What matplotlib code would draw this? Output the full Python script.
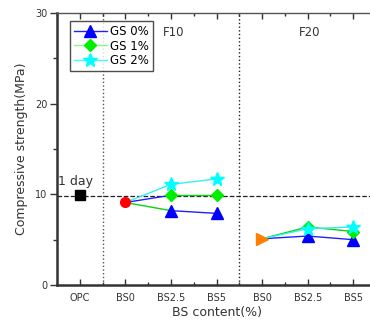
import matplotlib
matplotlib.use('Agg')
import matplotlib.pyplot as plt
from matplotlib.ticker import MultipleLocator

# Category labels along the x axis
categories = ['OPC', 'BS0', 'BS2.5', 'BS5', 'BS0', 'BS2.5', 'BS5']

# Reference (OPC) and plain-BS starting points
opc = 9.9
f10_bs0 = 9.1
f20_bs0 = 5.1

# Strength after GS addition at BS2.5 and BS5
gs_labels = ['GS 0%', 'GS 1%', 'GS 2%']
f10_gs0 = [8.2, 7.9]
f10_gs1 = [9.9, 9.9]
f10_gs2 = [11.1, 11.7]
f20_gs0 = [5.4, 5.0]
f20_gs1 = [6.4, 5.9]
f20_gs2 = [6.2, 6.4]

ref_line = 9.8

fig = plt.figure(figsize=(3.70, 3.25), dpi=100)
ax = fig.add_axes([57 / 370, 40 / 325, 319 / 370, 272 / 325])

styles = [
    dict(marker='^', mc='#0000ff', lc='#2020ff', ms=8),
    dict(marker='D', mc='#00ee00', lc='#10d010', ms=6.5),
    dict(marker='*', mc='#00ffff', lc='#30f0f0', ms=10),
]
# first F10 segment colours (blue/green swapped in the source figure)
first_seg = ['#10d010', '#2020ff', '#30f0f0']

f10 = [f10_gs0, f10_gs1, f10_gs2]
f20 = [f20_gs0, f20_gs1, f20_gs2]

for i, st in enumerate(styles):
    # F10 group: x = 1, 2, 3
    ax.plot([1, 2], [f10_bs0, f10[i][0]], color=first_seg[i], lw=1, zorder=2)
    ax.plot([2, 3], f10[i], color=st['lc'], lw=1, zorder=2)
    ax.plot([2, 3], f10[i], ls='none', marker=st['marker'], color=st['mc'],
            ms=st['ms'], zorder=3)
    # F20 group: x = 4, 5, 6
    ax.plot([4, 5, 6], [f20_bs0] + f20[i], color=st['lc'], lw=1, zorder=2)
    ax.plot([5, 6], f20[i], ls='none', marker=st['marker'], color=st['mc'],
            ms=st['ms'], zorder=3)

ax.plot([0], [opc], 's', color='black', ms=6.5, zorder=4)
ax.plot([1], [f10_bs0], 'o', color='#ff0000', ms=7, zorder=4)
ax.plot([4], [f20_bs0], '>', color='#ff8000', ms=8, zorder=4)

# legend handles
handles = []
for lab, st, lc in zip(gs_labels, styles, ['#2020ff', '#80ff80', '#40ffff']):
    h, = ax.plot([], [], color=lc, lw=1, marker=st['marker'],
                 mfc=st['mc'], mec=st['mc'], ms=st['ms'], label=lab)
    handles.append(h)
leg = ax.legend(handles=handles, loc='upper left', bbox_to_anchor=(0.04, 0.972),
                fontsize=8.5, frameon=True, fancybox=False, handlelength=2.8,
                handletextpad=0.3, borderpad=0.35, labelspacing=0.15,
                borderaxespad=0)
leg.get_frame().set_edgecolor('#222222')
leg.get_frame().set_linewidth(1)

ax.axhline(ref_line, color='#222222', ls='--', lw=0.9, zorder=1)
ax.axvline(0.5, color='#555555', ls=':', lw=1, zorder=1)
ax.axvline(3.5, color='#222222', ls=':', lw=1, zorder=1)

ax.text(-0.47, 11.4, '1 day', fontsize=9, color='#333333', va='center')
ax.text(2.05, 27.9, 'F10', fontsize=8.5, color='#333333', ha='center', va='center')
ax.text(5.05, 27.8, 'F20', fontsize=8.5, color='#333333', ha='center', va='center')

ax.set_xlim(-0.5, 6.5)
ax.set_ylim(0, 30)
ax.set_xticks(range(len(categories)))
ax.set_xticklabels(categories)
ax.xaxis.set_minor_locator(MultipleLocator(0.5))
ax.yaxis.set_major_locator(MultipleLocator(10))
ax.yaxis.set_minor_locator(MultipleLocator(5))

ax.tick_params(axis='x', which='both', direction='in', top=True, bottom=True,
               labelsize=7, colors='#333333', pad=6)
ax.tick_params(axis='x', which='major', length=4, width=1)
ax.tick_params(axis='x', which='minor', length=2, width=1)
ax.tick_params(axis='y', which='both', direction='out', labelsize=7,
               colors='#333333', pad=2)
ax.tick_params(axis='y', which='major', length=5, width=1)
ax.tick_params(axis='y', which='minor', length=3, width=1)

ax.spines['left'].set_linewidth(1.8)
ax.spines['bottom'].set_linewidth(1.8)
ax.spines['left'].set_color('#333333')
ax.spines['bottom'].set_color('#333333')
ax.spines['top'].set_color('#555555')
ax.spines['top'].set_linewidth(1)

ax.set_xlabel('BS content(%)', fontsize=9, color='#333333', labelpad=2)
ax.set_ylabel('Compressive strength(MPa)', fontsize=9, color='#333333', labelpad=5)

fig.savefig('out.png', dpi=100)
